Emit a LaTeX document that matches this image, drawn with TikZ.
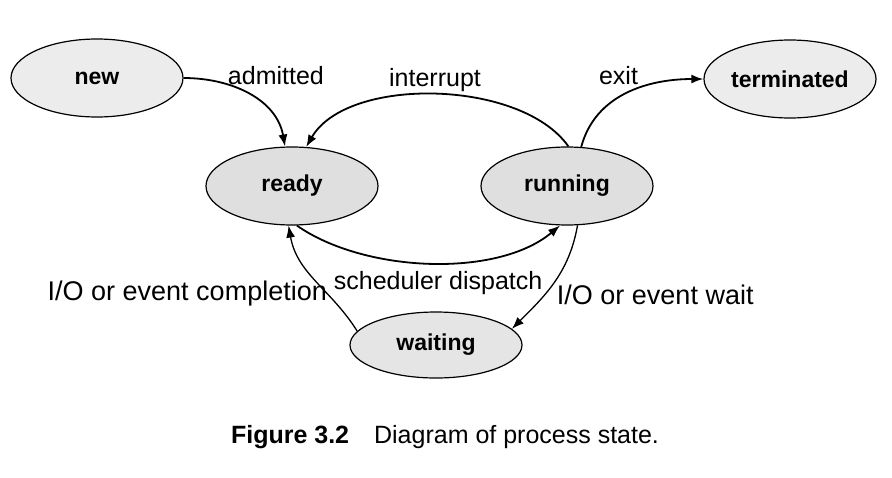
\documentclass[tikz,border=0pt]{standalone}
\usepackage{fontspec}
\setmainfont{Liberation Sans}
\usetikzlibrary{automata}
\usetikzlibrary{positioning}
\usetikzlibrary{arrows.meta}
\usetikzlibrary{shapes.geometric}
\tikzset{node distance=275pt, % Distance between ready and running
on grid,
every state/.style={ % Ellipses for the states
ellipse,
line width=1.2pt,
fill=gray!15,
minimum width=172pt,
minimum height=78pt,
inner sep=0pt,
font=\fontsize{23}{26}\selectfont\bfseries},
every edge/.style={ % Transitions
draw,
-{Latex[length=12pt,width=9pt]},
auto,
line width=1.8pt},
lbl/.style={font=\fontsize{25}{28}\selectfont, inner sep=2pt},
iolbl/.style={font=\fontsize{27}{30}\selectfont, inner sep=2pt}}

\begin{document}
\begin{tikzpicture}[x=1pt,y=1pt]
\useasboundingbox (0,0) rectangle (892,-477);
\node[state, fill=gray!25] (ready) at (292,-186) {ready};
\node[state, fill=gray!25, right=of ready] (running) {running};
\node[state, above left=108pt and 195pt of ready] (new) {new};
\node[state, above right=107pt and 223pt of running] (terminated) {terminated};
\node[state, fill=gray!20, minimum height=66pt, below right=159pt and 144pt of ready] (waiting) {waiting};
\draw (new) edge[out=0, in=100] node[lbl, pos=.3, yshift=-4pt] {admitted} (ready);
\draw (running.88) edge[out=125, in=60, looseness=.8] node[lbl, swap] {interrupt} (ready.70);
\draw (running.70) edge[out=75, in=180] node[lbl, pos=.6] {exit} (terminated);
\draw (ready.-83) edge[out=-35, in=-140, looseness=.8] node[lbl, swap, xshift=8pt, yshift=-6pt] {scheduler dispatch} (running.-100);
\draw (running.-75) edge[out=-100, in=45, line width=1.3pt] node[iolbl, pos=.5] {I/O or event wait} (waiting.12);
\draw (waiting.170) edge[out=122, in=-80, line width=1.3pt] node[iolbl, pos=.36, left, inner sep=0pt] {I/O or event completion} (ready.-95);
\node[font=\fontsize{25}{28}\selectfont] (caption) at (445,-437) {\textbf{Figure 3.2}\quad Diagram of process state.};
\end{tikzpicture}
\end{document}
